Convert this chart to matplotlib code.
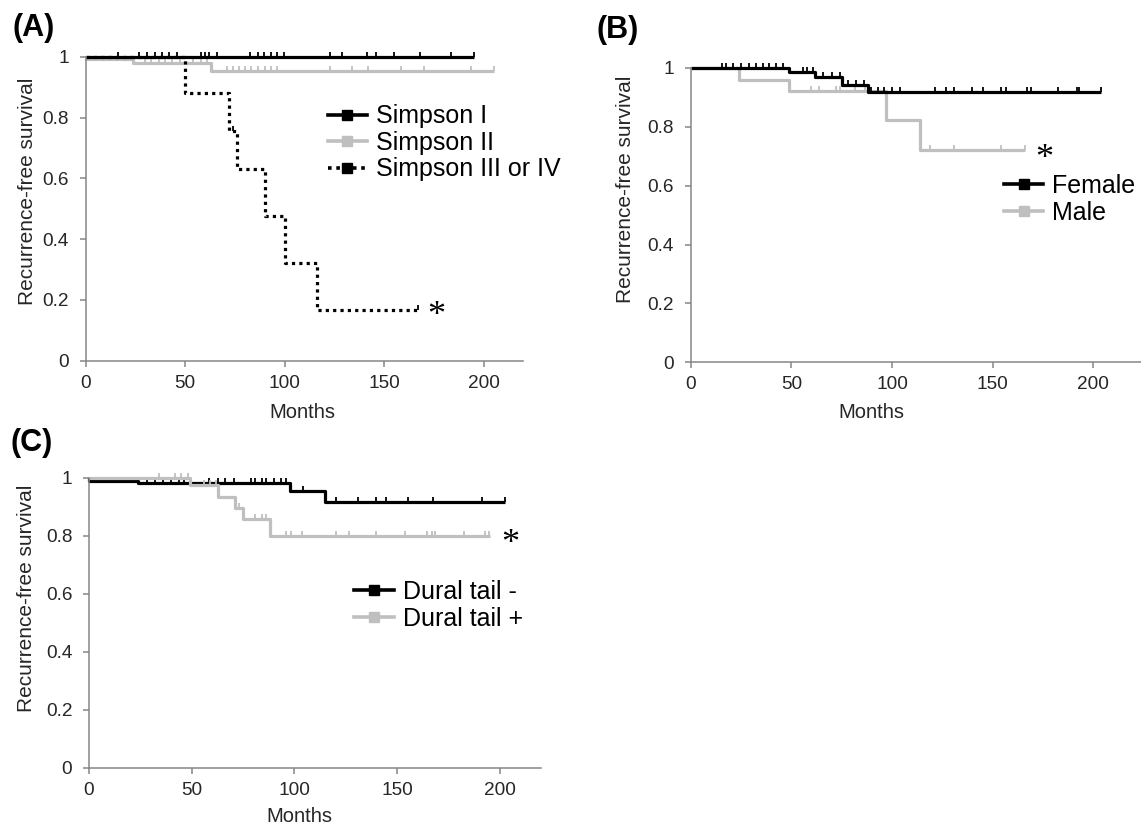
import numpy as np
import matplotlib
matplotlib.use("Agg")
import matplotlib.pyplot as plt
from matplotlib.lines import Line2D

plt.rcParams['font.family'] = ['Liberation Sans', 'DejaVu Sans']

BLACK = '#000000'
GRAY = '#BFBFBF'
AXIS = '#868686'
TEXT = '#262626'

# ---- panel A : Simpson grade ----
s1_drop_t = []
s1_drop_s = []
s1_end = 195
s1_cens = [16, 27, 31, 35, 38.5, 41.7, 46, 58, 60, 62, 66, 82.5, 86.6, 89.8, 93, 96, 99.6,
           123, 129, 141.6, 146, 155, 168, 183.5, 195]

s2_drop_t = [0, 24, 63]
s2_drop_s = [0.993, 0.978, 0.954]
s2_end = 205
s2_cens = [29.7, 33, 37, 40, 43.5, 47.6, 54, 58, 61, 71, 74, 77, 80, 83, 86.6, 90, 93, 96,
           123, 134, 142, 158.4, 170, 193.4, 205]

s3_drop_t = [50, 72, 76, 90, 100, 116]
s3_drop_s = [0.88, 0.755, 0.63, 0.475, 0.32, 0.167]
s3_end = 167
s3_cens = [74, 167]

# ---- panel B : sex ----
f_drop_t = [49, 62, 75, 88]
f_drop_s = [0.985, 0.968, 0.942, 0.918]
f_end = 204
f_cens = [15.8, 17.4, 20.8, 24.9, 29, 32.4, 35.7, 39, 42.4, 45.7, 55.6, 58, 61, 65.6, 70, 74,
          78, 82, 86, 89.7, 93, 96, 100, 104, 121.4, 127, 131, 140, 145, 154, 156.5, 167,
          169, 182.7, 191.7, 193, 204]

m_drop_t = [24, 49, 97, 114]
m_drop_s = [0.958, 0.922, 0.824, 0.722]
m_end = 166
m_cens = [59.8, 64, 72, 74, 81.4, 86.4, 119, 131, 154, 166]

# ---- panel C : dural tail ----
dn_drop_t = [0, 24, 98, 115]
dn_drop_s = [0.99, 0.981, 0.953, 0.917]
dn_end = 202.6
dn_cens = [28, 32, 36, 40, 44, 46, 58.5, 62.6, 66, 70.7, 79, 81, 84, 86, 90, 93.5, 96, 104,
           120, 130.9, 139.5, 144.4, 155.3, 167.2, 191.2, 202.6]

dp_drop_t = [49, 63, 71, 75, 88]
dp_drop_s = [0.975, 0.933, 0.895, 0.856, 0.80]
dp_end = 195
dp_cens = [34, 42, 45, 48, 56, 59, 62, 73, 81, 84, 86, 96, 98.3, 103.7, 120.3, 126.5, 139.5,
           153.7, 164.6, 166.7, 168.4, 182.5, 192.5, 194.8]

month_ticks = [0, 50, 100, 150, 200]
surv_ticks = [0, 0.2, 0.4, 0.6, 0.8, 1.0]
surv_tick_labels = ['0', '0.2', '0.4', '0.6', '0.8', '1']

DOTS = (0, (1, 1.3))


def surv_at(t, drop_t, drop_s):
    s = 1.0
    for dt, ds in zip(drop_t, drop_s):
        if t >= dt:
            s = ds
    return s


def draw_km(ax, drop_t, drop_s, end, cens, color, ls='-'):
    x = [0] + list(drop_t) + [end]
    y = [1.0] + list(drop_s) + [drop_s[-1] if drop_s else 1.0]
    ax.step(x, y, where='post', color=color, lw=2.3, ls=ls, clip_on=False,
            solid_capstyle='butt', dash_capstyle='butt')
    # censored cases: small ticks sitting on the curve
    cy = [surv_at(t, drop_t, drop_s) for t in cens]
    ax.plot(cens, cy, ls='none', marker=2, ms=3.3, mew=1.3, color=color, clip_on=False)


def handle(color, ls='-'):
    return Line2D([], [], color=color, lw=2.6, ls=ls, marker='s', ms=7.5,
                  mfc=color, mec=color, dash_capstyle='butt')


def style_ax(ax, xmax, ylab_xy, xlab_xy):
    ax.set_xlim(0, xmax)
    ax.set_ylim(0, 1)
    ax.spines[['top', 'right']].set_visible(False)
    for s in ['left', 'bottom']:
        ax.spines[s].set_color(AXIS)
        ax.spines[s].set_linewidth(1.1)
    ax.set_xticks(month_ticks)
    ax.set_yticks(surv_ticks)
    ax.set_yticklabels(surv_tick_labels)
    ax.tick_params(colors=AXIS, labelcolor=TEXT, labelsize=13.7, length=4, width=1.1)
    ax.tick_params(axis='x', pad=6)
    ax.tick_params(axis='y', pad=8)
    ax.set_xlabel('Months', fontsize=14.5, color=TEXT)
    ax.set_ylabel('Recurrence-free survival', fontsize=15, color=TEXT)
    ax.yaxis.set_label_coords(*ylab_xy)
    ax.yaxis.label.set_verticalalignment('center')
    ax.xaxis.set_label_coords(*xlab_xy)
    ax.xaxis.label.set_verticalalignment('center')


fig = plt.figure(figsize=(11.41, 8.27), dpi=100)
axA = fig.add_axes([0.0751, 0.5638, 0.3837, 0.3676])
axB = fig.add_axes([0.6053, 0.5619, 0.3970, 0.3559])
axC = fig.add_axes([0.0780, 0.0717, 0.3962, 0.3507])

# A
draw_km(axA, s2_drop_t, s2_drop_s, s2_end, s2_cens, GRAY)
draw_km(axA, s1_drop_t, s1_drop_s, s1_end, s1_cens, BLACK)
draw_km(axA, s3_drop_t, s3_drop_s, s3_end, s3_cens, BLACK, DOTS)
style_ax(axA, 220, (-0.1327, 0.556), (0.496, -0.17))
axA.legend([handle(BLACK), handle(GRAY), handle(BLACK, DOTS)],
           ['Simpson I', 'Simpson II', 'Simpson III or IV'],
           loc='upper left', bbox_to_anchor=(121.6, 0.843), bbox_transform=axA.transData,
           frameon=False, fontsize=18, borderpad=0, borderaxespad=0,
           handlelength=1.58, handletextpad=0.36, labelspacing=0.1)
axA.annotate('*', (176, 0.172), textcoords='offset points', xytext=(0, -6),
             ha='center', va='center', fontsize=26, family='Liberation Serif')

# B
draw_km(axB, m_drop_t, m_drop_s, m_end, m_cens, GRAY)
draw_km(axB, f_drop_t, f_drop_s, f_end, f_cens, BLACK)
style_ax(axB, 225, (-0.1444, 0.589), (0.40, -0.17))
axB.legend([handle(BLACK), handle(GRAY)], ['Female', 'Male'],
           loc='upper left', bbox_to_anchor=(155.6, 0.639), bbox_transform=axB.transData,
           frameon=False, fontsize=18, borderpad=0, borderaxespad=0,
           handlelength=1.58, handletextpad=0.36, labelspacing=0.1)
axB.annotate('*', (175.5, 0.719), textcoords='offset points', xytext=(0, -6),
             ha='center', va='center', fontsize=26, family='Liberation Serif')

# C
draw_km(axC, dn_drop_t, dn_drop_s, dn_end, dn_cens, BLACK)
draw_km(axC, dp_drop_t, dp_drop_s, dp_end, dp_cens, GRAY)
style_ax(axC, 220, (-0.1376, 0.584), (0.465, -0.169))
axC.legend([handle(BLACK), handle(GRAY)], ['Dural tail -', 'Dural tail +'],
           loc='upper left', bbox_to_anchor=(129, 0.647), bbox_transform=axC.transData,
           frameon=False, fontsize=18, borderpad=0, borderaxespad=0,
           handlelength=1.58, handletextpad=0.36, labelspacing=0.1)
axC.annotate('*', (205, 0.80), textcoords='offset points', xytext=(0, -6),
             ha='center', va='center', fontsize=26, family='Liberation Serif')

# panel letters
for lab, px, py in [('(A)', 12, 28), ('(B)', 597, 30), ('(C)', 11, 443)]:
    fig.text(px / 1141, 1 - py / 827, lab, fontsize=22, fontweight='bold',
             ha='left', va='center', color=BLACK)

fig.savefig('out.png', dpi=100)
